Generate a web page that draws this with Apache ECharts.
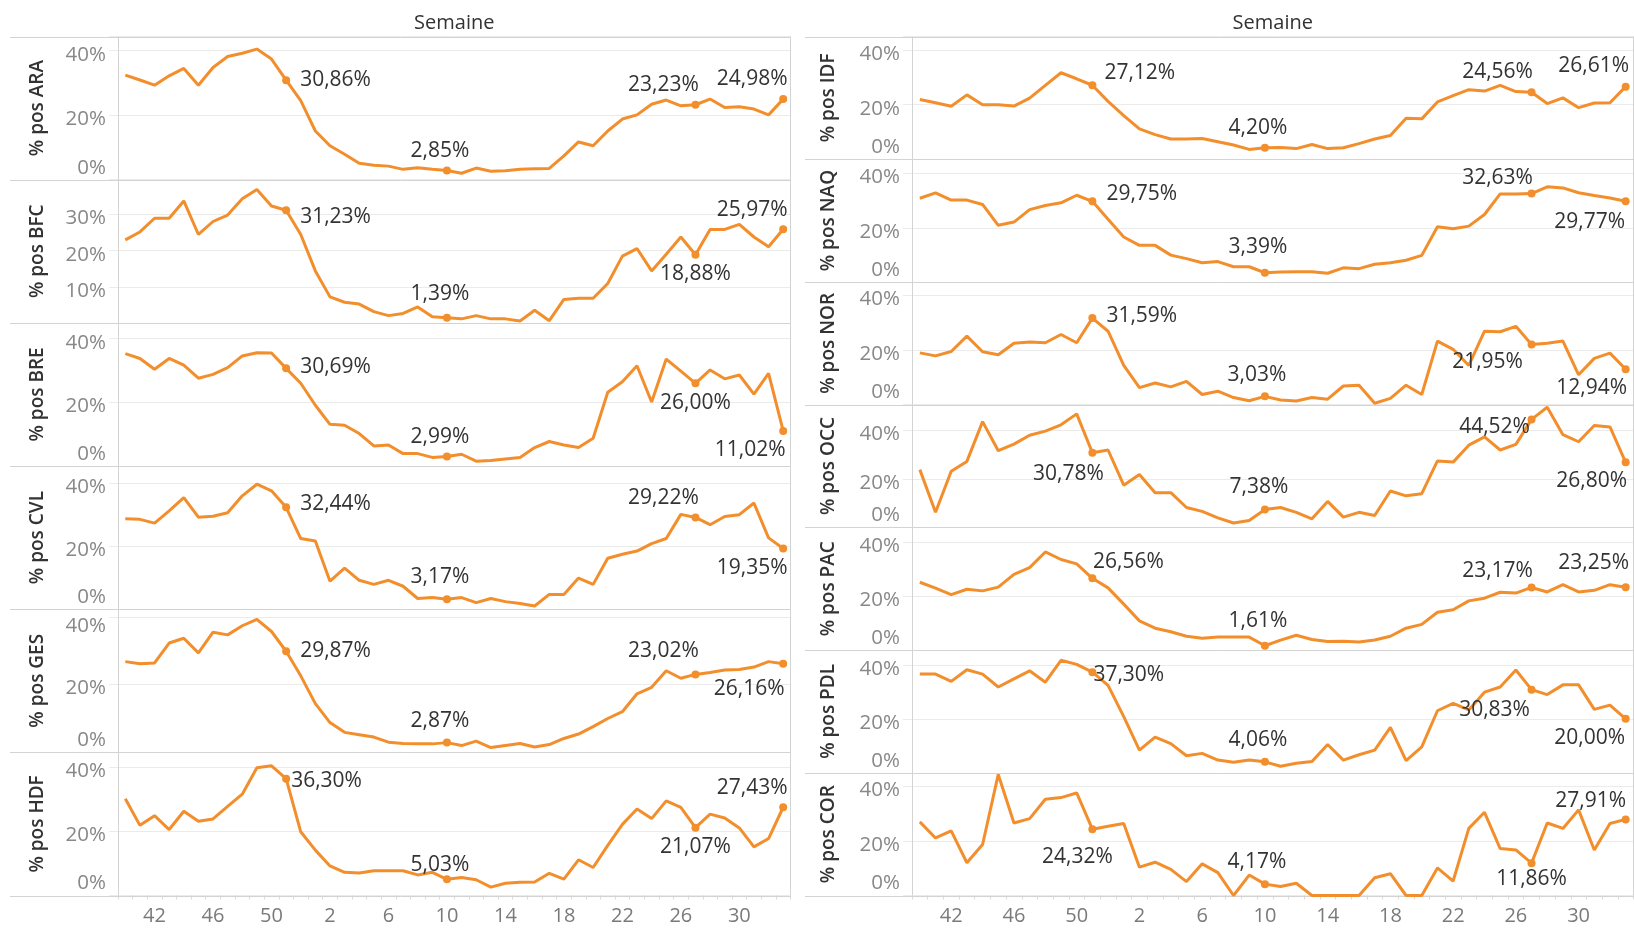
<!DOCTYPE html>
<html>
<head>
<meta charset="utf-8">
<title>% pos par région</title>
<script src="https://cdn.jsdelivr.net/npm/echarts@6.0.0/dist/echarts.min.js"></script>
<style>
    html, body { margin: 0; padding: 0; background: #fff; }
    #chart { width: 1634px; height: 928px; }
</style>
</head>
<body>
<div id="chart"></div>
<script>
// semaines (S40 -> S52, puis S1 -> S33)
var weeks = ['40', '41', '42', '43', '44', '45', '46', '47', '48', '49', '50', '51', '52',
    '1', '2', '3', '4', '5', '6', '7', '8', '9', '10', '11', '12', '13', '14', '15', '16', '17',
    '18', '19', '20', '21', '22', '23', '24', '25', '26', '27', '28', '29', '30', '31', '32', '33'];
var tickWeeks = ['42', '46', '50', '2', '6', '10', '14', '18', '22', '26', '30'];
// points marqués (S51, S10, S27, S33)
var markIdx = [11, 22, 39, 45];

var ara = [32.4, 30.9, 29.3, 32.2, 34.5, 29.3, 34.8, 38.2, 39.2, 40.5, 37.4, 30.86, 24.5, 15.1, 10.5, 7.9, 5.1, 4.5, 4.2, 3.2, 3.7, 3.2, 2.85, 2.0, 3.6, 2.6, 2.8, 3.2, 3.4, 3.5, 7.4, 11.7, 10.5, 15.1, 18.8, 20.1, 23.4, 24.7, 22.9, 23.23, 25.0, 22.4, 22.6, 21.9, 20.1, 24.98];
var bfc = [23.0, 25.2, 29.0, 29.0, 33.8, 24.5, 28.1, 29.9, 34.4, 37.0, 32.4, 31.23, 24.5, 14.4, 7.2, 5.7, 5.2, 3.1, 2.0, 2.6, 4.4, 1.7, 1.39, 1.1, 2.0, 1.1, 1.1, 0.5, 3.5, 0.6, 6.5, 6.8, 6.8, 10.9, 18.5, 20.6, 14.4, 19.0, 23.8, 18.88, 25.9, 25.9, 27.3, 23.8, 21.1, 25.97];
var bre = [35.3, 33.8, 30.4, 33.8, 31.7, 27.6, 28.8, 30.9, 34.6, 35.6, 35.5, 30.69, 26.0, 19.1, 13.1, 12.8, 10.2, 6.3, 6.6, 3.9, 3.9, 2.7, 2.99, 3.7, 1.5, 1.7, 2.2, 2.7, 5.8, 7.7, 6.6, 5.8, 8.7, 23.2, 26.5, 31.5, 20.1, 33.6, 29.8, 26.00, 30.2, 27.4, 28.6, 22.6, 29.1, 11.02];
var cvl = [28.8, 28.6, 27.4, 31.3, 35.5, 29.3, 29.6, 30.7, 36.1, 39.8, 37.7, 32.44, 22.5, 21.7, 8.9, 13.1, 9.2, 7.9, 9.2, 7.3, 3.4, 3.7, 3.17, 3.7, 2.1, 3.4, 2.4, 1.8, 1.0, 4.7, 4.7, 9.9, 7.9, 16.2, 17.5, 18.5, 20.9, 22.5, 30.2, 29.22, 26.9, 29.5, 30.1, 33.8, 22.7, 19.35];
var ges = [26.8, 26.2, 26.4, 32.3, 33.7, 29.4, 35.5, 34.7, 37.4, 39.3, 35.7, 29.87, 22.6, 14.4, 8.8, 5.9, 5.2, 4.5, 3.0, 2.6, 2.5, 2.5, 2.87, 2.0, 3.3, 1.4, 2.0, 2.6, 1.6, 2.3, 4.1, 5.4, 7.6, 10.0, 12.0, 17.3, 19.2, 24.1, 21.9, 23.02, 23.6, 24.3, 24.5, 25.2, 26.8, 26.16];
var hdf = [30.1, 21.8, 24.8, 20.5, 26.2, 23.1, 23.8, 27.7, 31.5, 39.7, 40.3, 36.30, 19.8, 14.1, 9.2, 7.2, 7.0, 7.7, 7.7, 7.7, 6.4, 7.2, 5.03, 5.6, 4.9, 2.6, 3.8, 4.1, 4.2, 6.9, 5.1, 11.1, 8.7, 15.6, 22.1, 26.9, 23.9, 29.4, 27.4, 21.07, 25.3, 24.1, 21.0, 15.1, 17.7, 27.43];
var idf = [21.9, 20.7, 19.4, 23.6, 20.0, 20.0, 19.5, 22.4, 27.1, 31.7, 29.5, 27.12, 21.2, 16.0, 11.1, 9.0, 7.4, 7.4, 7.6, 6.4, 5.2, 3.6, 4.20, 4.3, 3.9, 5.4, 3.9, 4.2, 5.7, 7.4, 8.7, 15.0, 14.8, 21.0, 23.3, 25.5, 25.0, 27.1, 24.8, 24.56, 20.4, 22.5, 18.9, 20.6, 20.7, 26.61];
var naq = [30.9, 32.9, 30.2, 30.2, 28.6, 20.9, 22.1, 26.7, 28.2, 29.2, 32.0, 29.75, 23.1, 16.6, 13.5, 13.5, 9.9, 8.6, 7.1, 7.5, 5.6, 5.6, 3.39, 3.7, 3.8, 3.8, 3.2, 5.2, 4.9, 6.5, 7.1, 8.0, 9.8, 20.4, 19.6, 20.6, 24.9, 32.5, 32.5, 32.63, 35.1, 34.7, 32.9, 31.9, 31.0, 29.77];
var nor = [18.9, 17.8, 19.4, 25.0, 19.3, 18.2, 22.4, 22.9, 22.6, 25.6, 22.6, 31.59, 26.8, 14.3, 6.2, 7.9, 6.5, 8.5, 3.7, 4.9, 2.6, 1.4, 3.03, 1.7, 1.3, 2.6, 2.0, 6.8, 7.1, 0.5, 2.3, 7.1, 3.7, 23.2, 20.2, 14.3, 26.8, 26.6, 28.6, 21.95, 22.4, 23.2, 10.9, 16.9, 18.8, 12.94];
var occ = [23.8, 6.2, 23.1, 27.2, 43.6, 31.6, 34.3, 38.0, 39.7, 42.3, 46.8, 30.78, 31.9, 17.4, 21.8, 14.3, 14.3, 8.2, 6.6, 3.9, 1.8, 2.8, 7.38, 8.2, 6.2, 3.5, 10.7, 4.2, 6.2, 4.9, 15.0, 13.0, 13.9, 27.4, 26.9, 33.9, 37.3, 31.9, 34.2, 44.52, 49.5, 38.2, 35.3, 42.0, 41.4, 26.80];
var pac = [25.1, 22.9, 20.5, 22.5, 21.9, 23.3, 28.0, 30.5, 36.3, 33.5, 31.9, 26.56, 23.0, 17.0, 10.8, 8.1, 6.8, 5.1, 4.4, 4.8, 4.8, 4.8, 1.61, 3.7, 5.5, 3.9, 3.2, 3.3, 3.0, 3.7, 5.1, 8.1, 9.5, 14.0, 14.9, 18.2, 19.2, 21.4, 21.1, 23.17, 21.5, 24.2, 21.5, 22.1, 24.2, 23.25];
var pdl = [36.6, 36.6, 33.9, 38.2, 36.6, 31.8, 34.8, 37.8, 33.6, 41.7, 40.2, 37.30, 32.4, 20.8, 8.4, 13.2, 10.8, 6.3, 7.2, 4.7, 3.9, 4.7, 4.06, 2.4, 3.5, 4.2, 10.5, 4.7, 6.7, 8.4, 16.8, 4.5, 9.6, 23.0, 25.7, 23.3, 29.9, 31.8, 38.1, 30.83, 29.0, 32.6, 32.6, 23.5, 25.1, 20.00];
var cor = [27.0, 21.1, 23.7, 12.0, 18.7, 44.4, 26.6, 28.2, 35.3, 35.9, 37.6, 24.32, 25.4, 26.4, 10.4, 12.2, 9.6, 5.1, 11.6, 8.4, 0, 7.5, 4.17, 3.3, 4.5, 0, 0, 0, 0, 6.5, 8.0, 0, 0, 10.1, 5.3, 24.6, 30.5, 17.2, 16.7, 11.86, 26.6, 24.6, 31.4, 16.7, 26.4, 27.91];

var leftRegions = ['ARA', 'BFC', 'BRE', 'CVL', 'GES', 'HDF'];
var rightRegions = ['IDF', 'NAQ', 'NOR', 'OCC', 'PAC', 'PDL', 'COR'];
var regionValues = {
    ARA: ara, BFC: bfc, BRE: bre, CVL: cvl, GES: ges, HDF: hdf,
    IDF: idf, NAQ: naq, NOR: nor, OCC: occ, PAC: pac, PDL: pdl, COR: cor
};

// échelle de chaque axe (axes indépendants)
var yTop = {
    ARA: 44.4, BFC: 39.7, BRE: 45.0, CVL: 45.6, GES: 42.3, HDF: 44.5,
    IDF: 45.0, NAQ: 45.3, NOR: 44.8, OCC: 50.6, PAC: 45.4, PDL: 45.5, COR: 45.0
};
var yStep = { BFC: 10 };
var hideZero = { BFC: true };
// étiquette du haut repoussée dans le cadre
var pushTop = { GES: 40 };

// placement des étiquettes : [position, offset, distance]
var labelPlace = {
    ARA: [['right', [0, 0], 10], ['top', [-7, 0]], ['top', [-32, 0]], ['top', [-31, -1]]],
    BFC: [['right', [0, 7], 10], ['top', [-7, -4]], ['bottom', [0, 0]], ['top', [-31, 0]]],
    BRE: [['right', [0, -1], 10], ['top', [-7, 0]], ['bottom', [0, 0]], ['bottom', [-33, 0]]],
    CVL: [['right', [0, -3], 10], ['top', [-7, -3]], ['top', [-32, 0]], ['bottom', [-31, 0]]],
    GES: [['right', [0, 0], 10], ['top', [-7, -2]], ['top', [-32, -4]], ['bottom', [-34, 6]]],
    HDF: [['right', [0, 2], 1], ['top', [-7, 5]], ['bottom', [0, 0]], ['top', [-31, 0]]],
    IDF: [['right', [0, -12], 8], ['top', [-7, 0]], ['top', [-34, -1]], ['top', [-32, -1]]],
    NAQ: [['right', [0, -7], 10], ['top', [-7, -6]], ['top', [-34, 4]], ['bottom', [-36, 1]]],
    NOR: [['right', [0, -2], 10], ['top', [-8, -2]], ['bottom', [-44, -2]], ['bottom', [-34, -1]]],
    OCC: [['bottom', [-24, 2]], ['top', [-6, -3]], ['top', [-37, 27]], ['bottom', [-34, -1]]],
    PAC: [['top', [36, 3]], ['top', [-7, -5]], ['top', [-34, 3]], ['top', [-32, -5]]],
    PDL: [['right', [0, 3], -3], ['top', [-7, -2]], ['bottom', [-37, 1]], ['bottom', [-36, 0]]],
    COR: [['bottom', [-15, 8]], ['top', [-8, -3]], ['bottom', [0, -4]], ['top', [-35, 1]]]
};

var FONT = '"Open Sans", "Noto Sans", sans-serif';
var ORANGE = '#f28e2b';
var BORDER = '#d3d3d3';
var TICK_GREY = '#888888';

var colLeft = { line0: 10, x0: 118, x1: 790.5, titleX: 38, n: 6 };
var colRight = { line0: 805, x0: 912, x1: 1633.5, titleX: 829, n: 7 };
var TOP = 36.5, BOTTOM = 895.5;

function fmtPct(v) {
    return v.toFixed(2).replace('.', ',') + '%';
}

function buildData(vals, place) {
    return vals.map(function (v, i) {
        var k = markIdx.indexOf(i);
        if (k < 0) return v;
        var p = place[k];
        return {
            value: v,
            symbol: 'circle',
            symbolSize: 8,
            label: {
                show: true,
                position: p[0],
                offset: p[1],
                distance: p[2] != null ? p[2] : 5
            }
        };
    });
}

var option = {
    animation: false,
    backgroundColor: '#ffffff',
    grid: [],
    xAxis: [],
    yAxis: [],
    series: [],
    graphic: []
};

function addColumn(col, regions) {
    var h = (BOTTOM - TOP) / col.n;
    for (var r = 0; r < regions.length; r++) {
        var name = regions[r];
        var gi = option.grid.length;
        var top = TOP + r * h;
        var isBottom = (r === regions.length - 1);
        var step = yStep[name] || 20;

        option.grid.push({
            left: col.x0,
            top: top,
            width: col.x1 - col.x0,
            height: h,
            containLabel: false,
            outerBoundsMode: 'none'
        });

        option.xAxis.push({
            type: 'category',
            gridIndex: gi,
            data: weeks,
            boundaryGap: true,
            axisLine: { show: false },
            axisTick: {
                show: isBottom,
                interval: 0,
                length: 4,
                lineStyle: { color: '#d9d9d9', width: 1 }
            },
            axisLabel: {
                show: isBottom,
                interval: function (idx, val) { return tickWeeks.indexOf(val) >= 0; },
                margin: 11,
                fontSize: 20,
                fontFamily: FONT,
                color: '#7a7a7a'
            },
            splitLine: { show: false }
        });

        option.yAxis.push({
            type: 'value',
            gridIndex: gi,
            min: 0,
            max: yTop[name],
            interval: step,
            axisLine: { show: false },
            axisTick: { show: true, length: 9, lineStyle: { color: '#ebebeb' } },
            splitLine: { show: true, lineStyle: { color: '#ebebeb', width: 1 } },
            axisLabel: {
                margin: 12,
                fontSize: 20.5,
                fontFamily: FONT,
                color: TICK_GREY,
                padding: [8, 0, 0, 0],
                formatter: (function (s, hz, pt) {
                    return function (v) {
                        if (Math.abs(v % s) > 1e-6) return '';
                        if (v === 0) return hz ? '' : '{z|0%}';
                        if (v === pt) return '{d|' + v + '%}';
                        return v + '%';
                    };
                })(step, hideZero[name], pushTop[name]),
                rich: {
                    z: { fontSize: 20.5, fontFamily: FONT, color: TICK_GREY, padding: [0, 0, 32, 0] },
                    d: { fontSize: 20.5, fontFamily: FONT, color: TICK_GREY, padding: [11, 0, 0, 0] }
                }
            }
        });

        option.series.push({
            type: 'line',
            name: name,
            xAxisIndex: gi,
            yAxisIndex: gi,
            data: buildData(regionValues[name], labelPlace[name]),
            symbol: 'none',
            showSymbol: true,
            showAllSymbol: true,
            lineStyle: { color: ORANGE, width: 3 },
            itemStyle: { color: ORANGE },
            label: {
                show: false,
                fontSize: 21,
                fontFamily: FONT,
                color: '#333333',
                formatter: function (p) { return fmtPct(p.value); }
            },
            emphasis: { disabled: true },
            z: 3
        });

        // titre de l'axe
        option.graphic.push({
            type: 'text',
            x: col.titleX,
            y: top + h / 2,
            rotation: Math.PI / 2,
            z: 10,
            style: {
                text: '% pos ' + name,
                align: 'center',
                verticalAlign: 'middle',
                fontSize: 19,
                fontWeight: 600,
                fontFamily: FONT,
                fill: '#333333'
            }
        });
    }

    // cadres
    for (var k = 0; k <= col.n; k++) {
        var y = Math.round(TOP + k * h) + 0.5;
        option.graphic.push({
            type: 'line', z: 1, silent: true,
            shape: { x1: col.line0, y1: y, x2: col.x1 + 0.5, y2: y },
            style: { stroke: BORDER, lineWidth: 1 }
        });
    }
    [col.x0, col.x1].forEach(function (x) {
        option.graphic.push({
            type: 'line', z: 1, silent: true,
            shape: { x1: Math.floor(x) + 0.5, y1: TOP, x2: Math.floor(x) + 0.5, y2: BOTTOM },
            style: { stroke: BORDER, lineWidth: 1 }
        });
    });

    // en-tête
    option.graphic.push({
        type: 'text',
        x: (col.x0 + col.x1) / 2,
        y: 23,
        z: 10,
        style: {
            text: 'Semaine',
            align: 'center',
            verticalAlign: 'middle',
            fontSize: 20,
            fontFamily: FONT,
            fill: '#333333'
        }
    });
}

addColumn(colLeft, leftRegions);
addColumn(colRight, rightRegions);

var chart = echarts.init(document.getElementById('chart'), null, { renderer: 'canvas' });
chart.setOption(option);
</script>
</body>
</html>
